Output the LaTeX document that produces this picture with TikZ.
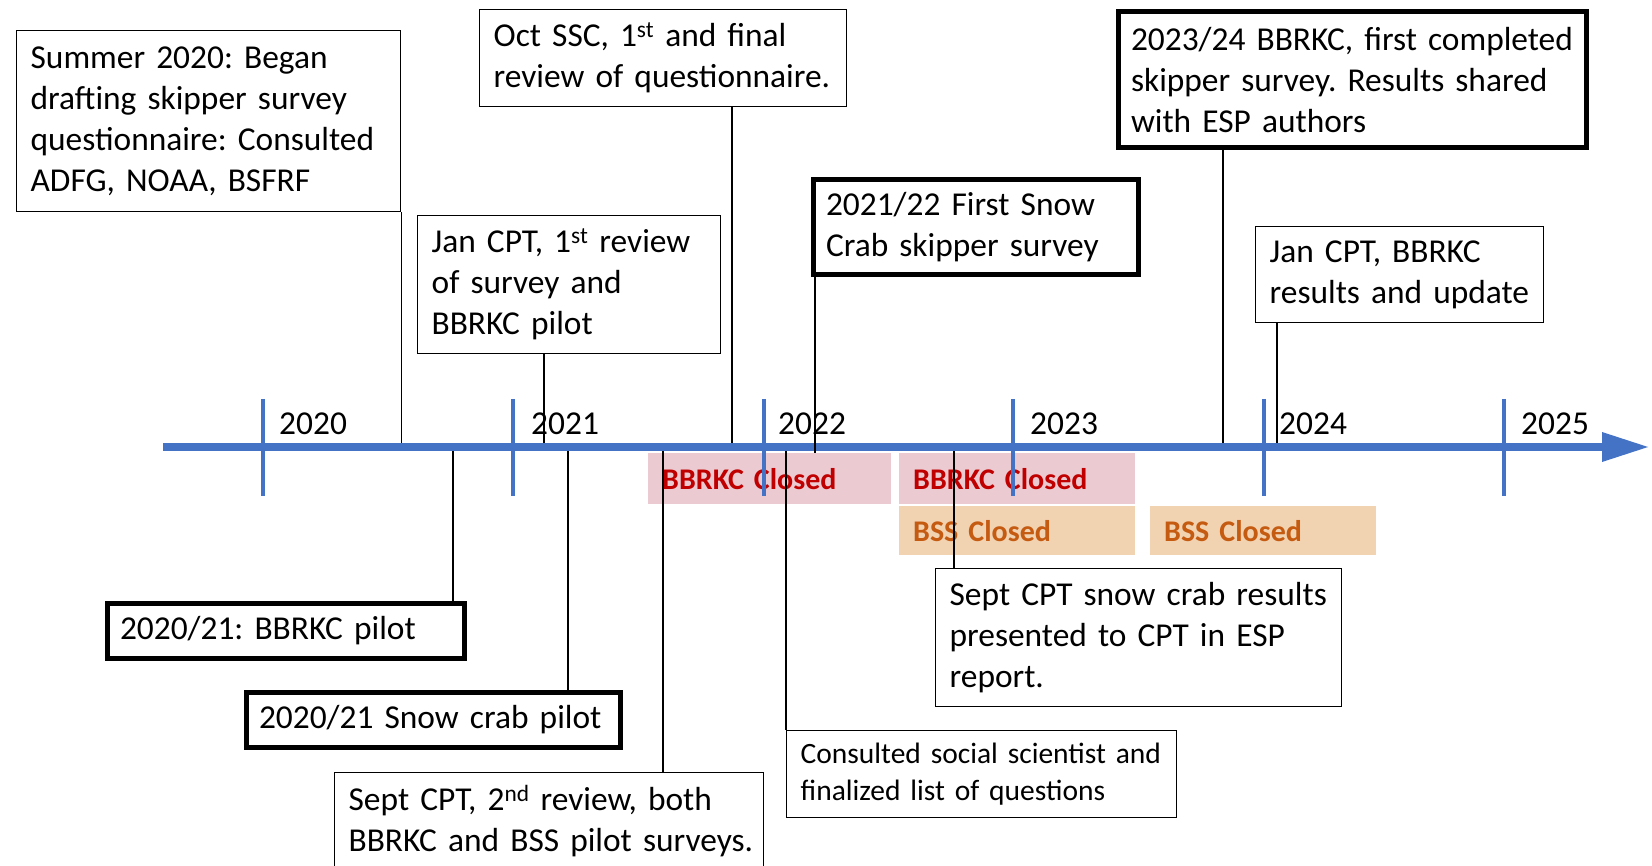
\documentclass[tikz,border=0pt]{standalone}
\usepackage{fontspec}
\setmainfont{Carlito}
\usetikzlibrary{calc}
\definecolor{axblue}{HTML}{4472C4}
\definecolor{pinkfill}{HTML}{ECCAD2}
\definecolor{redtxt}{HTML}{C00000}
\definecolor{orgfill}{HTML}{F1D2B1}
\definecolor{orgtxt}{HTML}{C55A11}
\newcommand\ml[1]{\mbox{#1}}
\frenchspacing
\begin{document}
\begin{tikzpicture}[x=1pt,y=-1pt,
  txt/.style={font=\fontsize{33.4}{41}\selectfont},
  thinbox/.style={draw=black, line width=1.3pt, fill=white, anchor=north west,
    inner xsep=14pt, inner ysep=0pt, align=left, txt},
  thickbox/.style={thinbox, line width=5pt, inner xsep=13pt},
  conn/.style={draw=black, line width=1.3pt},
  band/.style={anchor=north west, inner xsep=14pt, inner ysep=0pt, align=left,
    font=\fontsize{30}{36}\selectfont\bfseries},
  pinkband/.style={band, fill=pinkfill, text=redtxt},
  orgband/.style={band, fill=orgfill, text=orgtxt},
  tick/.style={draw=axblue, line width=3.5pt},
  yearlbl/.style={txt, anchor=base west, inner sep=0pt}
]
\clip (0,0) rectangle (1652,866);
\fill[white] (0,0) rectangle (1652,866);

% closure bands
\node[pinkband, minimum width=243pt, minimum height=51pt, text width=215pt] (b1) at (648,453) {BBRKC Closed};
\node[pinkband, minimum width=236pt, minimum height=51pt, text width=208pt] (b2) at (899,453) {BBRKC Closed};
\node[orgband, minimum width=236pt, minimum height=49pt, text width=208pt] (b3) at (899,506) {BSS Closed};
\node[orgband, minimum width=226pt, minimum height=49pt, text width=198pt] (b4) at (1150,506) {BSS Closed};

% axis
\coordinate (axS) at (163,447);
\coordinate (axE) at (1605,447);
\coordinate (axTip) at (1648,447);
\coordinate (axT) at (0,443);
\coordinate (axB) at (0,451);
\coordinate (axD) at (0,453);
\draw[axblue, line width=8pt] (axS) -- (axE);
\fill[axblue] (1602,432) -- (axTip) -- (1602,462) -- cycle;

% year ticks and labels
\foreach \x/\y/\lx in {263/2020/279, 513/2021/531, 764/2022/778, 1013/2023/1030, 1264/2024/1279, 1504/2025/1521}{
  \draw[tick] (\x,399) -- (\x,496);
  \node[yearlbl] (y\y) at (\lx,435) {\y};
}

% boxes above
\node[thinbox, minimum width=384pt, minimum height=181pt, text width=356pt] (A) at (16,30)
  {\ml{Summer 2020: Began}\\\ml{drafting skipper survey}\\\ml{questionnaire: Consulted}\\\ml{ADFG, NOAA, BSFRF}};
\node[thinbox, minimum width=367pt, minimum height=97pt, text width=339pt] (B) at (479,9)
  {\ml{Oct SSC, 1\textsuperscript{st} and final}\\\ml{review of questionnaire.}};
\node[thinbox, minimum width=303pt, minimum height=138pt, text width=275pt] (C) at (417,215)
  {\ml{Jan CPT, 1\textsuperscript{st} review}\\\ml{of survey and}\\\ml{BBRKC pilot}};
\node[thickbox, minimum width=325pt, minimum height=95pt, text width=299pt] (D) at (810.5,177.5)
  {\ml{2021/22 First Snow}\\\ml{Crab skipper survey}};
\node[thickbox, minimum width=468pt, minimum height=136pt, text width=442pt] (E) at (1115.5,9.5)
  {\ml{2023/24 BBRKC, first completed}\\\ml{skipper survey. Results shared}\\\ml{with ESP authors}};
\node[thinbox, minimum width=288pt, minimum height=96pt, text width=260pt] (F) at (1255,226)
  {\ml{Jan CPT, BBRKC}\\\ml{results and update}};

% boxes below
\node[thickbox, minimum width=357pt, minimum height=55pt, text width=331pt] (G) at (104.5,600.5)
  {\ml{2020/21: BBRKC pilot}};
\node[thickbox, minimum width=374pt, minimum height=55pt, text width=348pt] (H) at (243.5,689.5)
  {\ml{2020/21 Snow crab pilot}};
\node[thinbox, minimum width=429pt, minimum height=97pt, text width=401pt] (I) at (334,772)
  {\ml{Sept CPT, 2\textsuperscript{nd} review, both}\\\ml{BBRKC and BSS pilot surveys.}};
\node[thinbox, minimum width=390pt, minimum height=87pt, text width=362pt,
  font=\fontsize{29.5}{36.5}\selectfont] (J) at (786,730)
  {\ml{Consulted social scientist and}\\\ml{finalized list of questions}};
\node[thinbox, minimum width=406pt, minimum height=138pt, text width=378pt] (K) at (935,568)
  {\ml{Sept CPT snow crab results}\\\ml{presented to CPT in ESP}\\\ml{report.}};

% connector anchor points
\coordinate (cA) at (A.south east);
\coordinate (cB) at ([xshift=253pt]B.south west);
\coordinate (cC) at ([xshift=127pt]C.south west);
\coordinate (cD) at ([xshift=4.5pt]D.south west);
\coordinate (cE) at ([xshift=107.5pt]E.south west);
\coordinate (cF) at ([xshift=22pt]F.south west);
\coordinate (cG) at ([xshift=348.5pt]G.north west);
\coordinate (cH) at ([xshift=324.5pt]H.north west);
\coordinate (cI) at ([xshift=329pt]I.north west);
\coordinate (cJ) at (J.north west);
\coordinate (cK) at ([xshift=19pt]K.north west);

% connectors
\draw[conn] (cA) -- (cA |- axT);
\draw[conn] (cB) -- (cB |- axT);
\draw[conn] (cC) -- (cC |- axT);
\draw[conn] (cD) -- (cD |- axD);
\draw[conn] (cE) -- (cE |- axT);
\draw[conn] (cF) -- (cF |- axT);
\draw[conn] (cG |- axB) -- (cG);
\draw[conn] (cH |- axB) -- (cH);
\draw[conn] (cI |- axB) -- (cI);
\draw[conn] (cJ |- axB) -- (cJ);
\draw[conn] (cK |- axB) -- (cK);
\end{tikzpicture}
\end{document}
